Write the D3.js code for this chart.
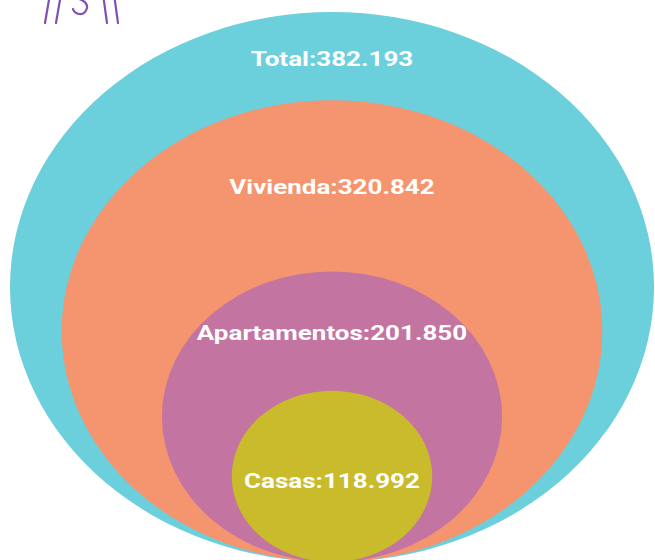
<!DOCTYPE html>
<html>
<head>
<meta charset="utf-8">
<script src="https://cdn.jsdelivr.net/npm/d3@7"></script>
<style>
  html, body { margin: 0; padding: 0; background: #fff; }
  svg { display: block; }
</style>
</head>
<body>
<svg id="chart" width="655" height="560"></svg>
<script>
// Nested totals, outermost first
const categories = ["Total", "Vivienda", "Apartamentos", "Casas"];
const values = [382193, 320842, 201850, 118992];
const labels = ["Total:382.193", "Vivienda:320.842", "Apartamentos:201.850", "Casas:118.992"];
const colors = ["#6ccfdc", "#f4956f", "#c474a1", "#c9bb2b"];

// Layout
const W = 655, H = 560;
const cx = 332, baseY = 562;          // every ellipse rests on the same bottom point
const labelDy = [47, 87, 62, 90];     // label centre below the top of its ellipse

const svg = d3.select("#chart");

const rx = d3.scaleLinear().domain([0, d3.max(values)]).range([0, 322]);
const ry = d3.scaleLinear().domain([0, d3.max(values)]).range([0, 275]);

const data = categories.map((c, i) => ({ name: c, value: values[i], label: labels[i], color: colors[i], dy: labelDy[i] }));

const g = svg.append("g");

g.selectAll("ellipse")
  .data(data)
  .join("ellipse")
  .attr("cx", cx)
  .attr("cy", d => baseY - ry(d.value))
  .attr("rx", d => rx(d.value))
  .attr("ry", d => ry(d.value))
  .attr("fill", d => d.color);

g.selectAll("text.lbl")
  .data(data)
  .join("text")
  .attr("class", "lbl")
  .attr("transform", d => `translate(${cx},${baseY - 2 * ry(d.value) + d.dy}) scale(1.3,1)`)
  .attr("text-anchor", "middle")
  .attr("dominant-baseline", "central")
  .attr("fill", "#ffffff")
  .attr("font-family", "Roboto, 'Liberation Sans', Arial, sans-serif")
  .attr("font-weight", "bold")
  .attr("font-size", 20)
  .text(d => d.label);

// Logo mark in the top-left corner
const logo = svg.append("g")
  .attr("fill", "none")
  .attr("stroke", "#7d52b3")
  .attr("stroke-width", 2.2)
  .attr("stroke-linecap", "round");
[[50, -6, 45, 23], [61, -6, 56, 23], [103, -6, 107, 23], [114, -6, 118, 23]].forEach(([x1, y1, x2, y2]) => {
  logo.append("line").attr("x1", x1).attr("y1", y1).attr("x2", x2).attr("y2", y2);
});
logo.append("path").attr("d", "M 76 -2 Q 88 1 87 8 Q 85 15 79 14 Q 74 13 73 9");
</script>
</body>
</html>
